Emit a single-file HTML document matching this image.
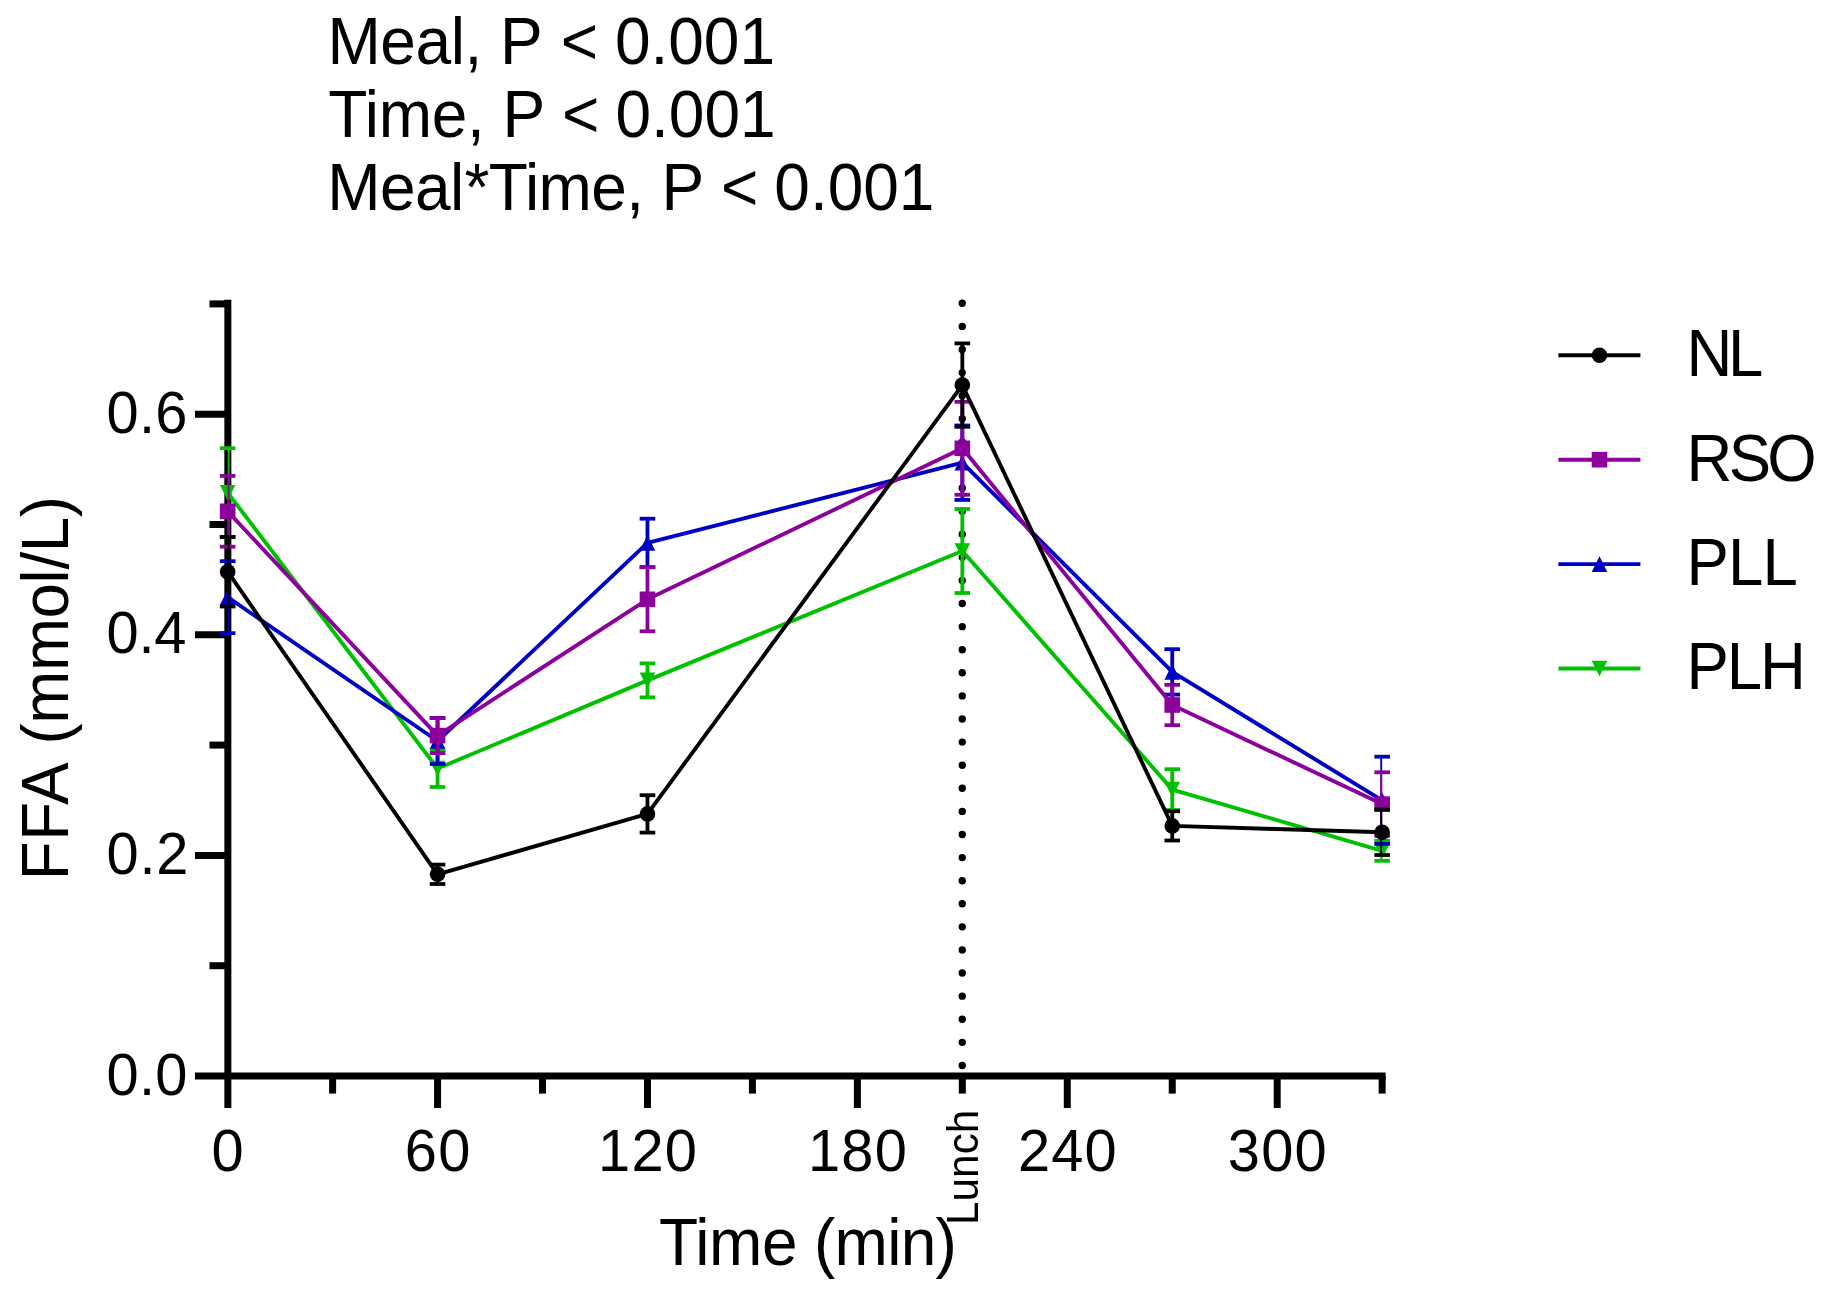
<!DOCTYPE html>
<html lang="en"><head><meta charset="utf-8"><title>FFA (mmol/L) over Time (min)</title>
<style>html,body{margin:0;padding:0;background:#fff}body{width:1824px;height:1290px;overflow:hidden}svg{display:block;filter:blur(0.4px)}text{font-family:"Liberation Sans", Arial, sans-serif;fill:#000}</style></head><body>
<svg width="1824" height="1290" viewBox="0 0 1824 1290">
<rect width="1824" height="1290" fill="#fff"/>
<defs><clipPath id="pc"><rect x="227.65" y="0" width="1154.50" height="1290"/></clipPath></defs>
<g stroke="#000" stroke-width="7" fill="none">
<line x1="227.85" y1="299.8" x2="227.85" y2="1108"/>
<line x1="195" y1="1076.0" x2="1385.65" y2="1076.0"/>
<line x1="209.5" y1="965.70" x2="227.85" y2="965.70"/>
<line x1="195" y1="855.40" x2="227.85" y2="855.40"/>
<line x1="209.5" y1="745.10" x2="227.85" y2="745.10"/>
<line x1="195" y1="634.80" x2="227.85" y2="634.80"/>
<line x1="209.5" y1="524.50" x2="227.85" y2="524.50"/>
<line x1="195" y1="414.20" x2="227.85" y2="414.20"/>
<line x1="209.5" y1="303.90" x2="227.85" y2="303.90"/>
<line x1="332.61" y1="1076.0" x2="332.61" y2="1093.6"/>
<line x1="437.56" y1="1076.0" x2="437.56" y2="1108"/>
<line x1="542.51" y1="1076.0" x2="542.51" y2="1093.6"/>
<line x1="647.47" y1="1076.0" x2="647.47" y2="1108"/>
<line x1="752.42" y1="1076.0" x2="752.42" y2="1093.6"/>
<line x1="857.38" y1="1076.0" x2="857.38" y2="1108"/>
<line x1="962.33" y1="1076.0" x2="962.33" y2="1093.6"/>
<line x1="1067.29" y1="1076.0" x2="1067.29" y2="1108"/>
<line x1="1172.25" y1="1076.0" x2="1172.25" y2="1093.6"/>
<line x1="1277.20" y1="1076.0" x2="1277.20" y2="1108"/>
<line x1="1382.15" y1="1076.0" x2="1382.15" y2="1093.6"/>
</g>
<line x1="962.25" y1="303.3" x2="962.25" y2="1066" stroke="#000" stroke-width="7.4" stroke-linecap="round" stroke-dasharray="0 23.095"/>
<g id="PLH">
<polyline points="227.65,492.70 437.56,768.50 647.47,680.40 962.33,551.00 1172.25,789.60 1382.15,850.80" fill="none" stroke="#00C000" stroke-width="3.9" stroke-linejoin="round"/>
<g stroke="#00C000" stroke-width="3.8" clip-path="url(#pc)">
<line x1="227.65" y1="448.20" x2="227.65" y2="537.20"/>
<line x1="437.56" y1="750.00" x2="437.56" y2="787.00"/>
<line x1="647.47" y1="663.40" x2="647.47" y2="697.40"/>
<line x1="962.33" y1="509.00" x2="962.33" y2="593.00"/>
<line x1="1172.25" y1="769.20" x2="1172.25" y2="810.00"/>
<line x1="1382.15" y1="840.80" x2="1382.15" y2="860.80"/>
</g>
<g stroke="#00C000" stroke-width="3.8">
<line x1="219.85" y1="448.20" x2="235.45" y2="448.20"/>
<line x1="219.85" y1="537.20" x2="235.45" y2="537.20"/>
<line x1="429.76" y1="750.00" x2="445.36" y2="750.00"/>
<line x1="429.76" y1="787.00" x2="445.36" y2="787.00"/>
<line x1="639.67" y1="663.40" x2="655.27" y2="663.40"/>
<line x1="639.67" y1="697.40" x2="655.27" y2="697.40"/>
<line x1="954.53" y1="509.00" x2="970.13" y2="509.00"/>
<line x1="954.53" y1="593.00" x2="970.13" y2="593.00"/>
<line x1="1164.45" y1="769.20" x2="1180.05" y2="769.20"/>
<line x1="1164.45" y1="810.00" x2="1180.05" y2="810.00"/>
<line x1="1374.36" y1="840.80" x2="1389.95" y2="840.80"/>
<line x1="1374.36" y1="860.80" x2="1389.95" y2="860.80"/>
</g>
<polygon points="227.65,500.50 235.45,484.90 219.85,484.90" fill="#00C000"/>
<polygon points="437.56,776.30 445.36,760.70 429.76,760.70" fill="#00C000"/>
<polygon points="647.47,688.20 655.27,672.60 639.67,672.60" fill="#00C000"/>
<polygon points="962.33,558.80 970.13,543.20 954.53,543.20" fill="#00C000"/>
<polygon points="1172.25,797.40 1180.05,781.80 1164.45,781.80" fill="#00C000"/>
<polygon points="1382.15,858.60 1389.95,843.00 1374.36,843.00" fill="#00C000"/>
</g>
<g id="PLL">
<polyline points="227.65,597.20 437.56,741.00 647.47,542.90 962.33,462.70 1172.25,671.90 1382.15,800.30" fill="none" stroke="#0000C4" stroke-width="3.9" stroke-linejoin="round"/>
<g stroke="#0000C4" stroke-width="3.8" clip-path="url(#pc)">
<line x1="227.65" y1="561.20" x2="227.65" y2="633.20"/>
<line x1="437.56" y1="718.00" x2="437.56" y2="764.00"/>
<line x1="647.47" y1="518.70" x2="647.47" y2="567.10"/>
<line x1="962.33" y1="425.50" x2="962.33" y2="499.90"/>
<line x1="1172.25" y1="649.20" x2="1172.25" y2="694.60"/>
<line x1="1382.15" y1="756.70" x2="1382.15" y2="843.90"/>
</g>
<g stroke="#0000C4" stroke-width="3.8">
<line x1="219.85" y1="561.20" x2="235.45" y2="561.20"/>
<line x1="219.85" y1="633.20" x2="235.45" y2="633.20"/>
<line x1="429.76" y1="718.00" x2="445.36" y2="718.00"/>
<line x1="429.76" y1="764.00" x2="445.36" y2="764.00"/>
<line x1="639.67" y1="518.70" x2="655.27" y2="518.70"/>
<line x1="639.67" y1="567.10" x2="655.27" y2="567.10"/>
<line x1="954.53" y1="425.50" x2="970.13" y2="425.50"/>
<line x1="954.53" y1="499.90" x2="970.13" y2="499.90"/>
<line x1="1164.45" y1="649.20" x2="1180.05" y2="649.20"/>
<line x1="1164.45" y1="694.60" x2="1180.05" y2="694.60"/>
<line x1="1374.36" y1="756.70" x2="1389.95" y2="756.70"/>
<line x1="1374.36" y1="843.90" x2="1389.95" y2="843.90"/>
</g>
<polygon points="227.65,589.40 235.45,605.00 219.85,605.00" fill="#0000C4"/>
<polygon points="437.56,733.20 445.36,748.80 429.76,748.80" fill="#0000C4"/>
<polygon points="647.47,535.10 655.27,550.70 639.67,550.70" fill="#0000C4"/>
<polygon points="962.33,454.90 970.13,470.50 954.53,470.50" fill="#0000C4"/>
<polygon points="1172.25,664.10 1180.05,679.70 1164.45,679.70" fill="#0000C4"/>
<polygon points="1382.15,792.50 1389.95,808.10 1374.36,808.10" fill="#0000C4"/>
</g>
<g id="RSO">
<polyline points="227.65,511.30 437.56,735.60 647.47,599.30 962.33,448.30 1172.25,705.00 1382.15,804.10" fill="none" stroke="#8C009C" stroke-width="3.9" stroke-linejoin="round"/>
<g stroke="#8C009C" stroke-width="3.8" clip-path="url(#pc)">
<line x1="227.65" y1="475.90" x2="227.65" y2="546.70"/>
<line x1="437.56" y1="718.10" x2="437.56" y2="753.10"/>
<line x1="647.47" y1="567.30" x2="647.47" y2="631.30"/>
<line x1="962.33" y1="401.80" x2="962.33" y2="494.80"/>
<line x1="1172.25" y1="684.80" x2="1172.25" y2="725.20"/>
<line x1="1382.15" y1="772.30" x2="1382.15" y2="835.90"/>
</g>
<g stroke="#8C009C" stroke-width="3.8">
<line x1="219.85" y1="475.90" x2="235.45" y2="475.90"/>
<line x1="219.85" y1="546.70" x2="235.45" y2="546.70"/>
<line x1="429.76" y1="718.10" x2="445.36" y2="718.10"/>
<line x1="429.76" y1="753.10" x2="445.36" y2="753.10"/>
<line x1="639.67" y1="567.30" x2="655.27" y2="567.30"/>
<line x1="639.67" y1="631.30" x2="655.27" y2="631.30"/>
<line x1="954.53" y1="401.80" x2="970.13" y2="401.80"/>
<line x1="954.53" y1="494.80" x2="970.13" y2="494.80"/>
<line x1="1164.45" y1="684.80" x2="1180.05" y2="684.80"/>
<line x1="1164.45" y1="725.20" x2="1180.05" y2="725.20"/>
<line x1="1374.36" y1="772.30" x2="1389.95" y2="772.30"/>
<line x1="1374.36" y1="835.90" x2="1389.95" y2="835.90"/>
</g>
<rect x="219.85" y="503.50" width="15.60" height="15.60" fill="#8C009C"/>
<rect x="429.76" y="727.80" width="15.60" height="15.60" fill="#8C009C"/>
<rect x="639.67" y="591.50" width="15.60" height="15.60" fill="#8C009C"/>
<rect x="954.53" y="440.50" width="15.60" height="15.60" fill="#8C009C"/>
<rect x="1164.45" y="697.20" width="15.60" height="15.60" fill="#8C009C"/>
<rect x="1374.36" y="796.30" width="15.60" height="15.60" fill="#8C009C"/>
</g>
<g id="NL">
<polyline points="227.65,571.70 437.56,874.30 647.47,813.90 962.33,385.10 1172.25,825.90 1382.15,832.30" fill="none" stroke="#000000" stroke-width="3.9" stroke-linejoin="round"/>
<g stroke="#000000" stroke-width="3.8" clip-path="url(#pc)">
<line x1="227.65" y1="536.90" x2="227.65" y2="606.50"/>
<line x1="437.56" y1="864.60" x2="437.56" y2="884.00"/>
<line x1="647.47" y1="795.20" x2="647.47" y2="832.60"/>
<line x1="962.33" y1="343.40" x2="962.33" y2="426.80"/>
<line x1="1172.25" y1="811.30" x2="1172.25" y2="840.50"/>
<line x1="1382.15" y1="809.60" x2="1382.15" y2="855.00"/>
</g>
<g stroke="#000000" stroke-width="3.8">
<line x1="219.85" y1="536.90" x2="235.45" y2="536.90"/>
<line x1="219.85" y1="606.50" x2="235.45" y2="606.50"/>
<line x1="429.76" y1="864.60" x2="445.36" y2="864.60"/>
<line x1="429.76" y1="884.00" x2="445.36" y2="884.00"/>
<line x1="639.67" y1="795.20" x2="655.27" y2="795.20"/>
<line x1="639.67" y1="832.60" x2="655.27" y2="832.60"/>
<line x1="954.53" y1="343.40" x2="970.13" y2="343.40"/>
<line x1="954.53" y1="426.80" x2="970.13" y2="426.80"/>
<line x1="1164.45" y1="811.30" x2="1180.05" y2="811.30"/>
<line x1="1164.45" y1="840.50" x2="1180.05" y2="840.50"/>
<line x1="1374.36" y1="809.60" x2="1389.95" y2="809.60"/>
<line x1="1374.36" y1="855.00" x2="1389.95" y2="855.00"/>
</g>
<circle cx="227.65" cy="571.70" r="7.80" fill="#000000"/>
<circle cx="437.56" cy="874.30" r="7.80" fill="#000000"/>
<circle cx="647.47" cy="813.90" r="7.80" fill="#000000"/>
<circle cx="962.33" cy="385.10" r="7.80" fill="#000000"/>
<circle cx="1172.25" cy="825.90" r="7.80" fill="#000000"/>
<circle cx="1382.15" cy="832.30" r="7.80" fill="#000000"/>
</g>
<line x1="1558.4" y1="355.30" x2="1640.4" y2="355.30" stroke="#000000" stroke-width="3.9"/>
<circle cx="1599.50" cy="355.30" r="7.80" fill="#000000"/>
<line x1="1558.4" y1="459.70" x2="1640.4" y2="459.70" stroke="#8C009C" stroke-width="3.9"/>
<rect x="1591.70" y="451.90" width="15.60" height="15.60" fill="#8C009C"/>
<line x1="1558.4" y1="564.10" x2="1640.4" y2="564.10" stroke="#0000C4" stroke-width="3.9"/>
<polygon points="1599.50,556.30 1607.30,571.90 1591.70,571.90" fill="#0000C4"/>
<line x1="1558.4" y1="668.50" x2="1640.4" y2="668.50" stroke="#00C000" stroke-width="3.9"/>
<polygon points="1599.50,676.30 1607.30,660.70 1591.70,660.70" fill="#00C000"/>
<text transform="translate(0,63.60) scale(1,1.04)" font-size="64" xml:space="preserve"><tspan x="327.50" letter-spacing="-0.425">Meal,</tspan><tspan letter-spacing="0"> </tspan><tspan x="499.90" letter-spacing="0.000">P</tspan><tspan letter-spacing="0"> </tspan><tspan x="560.70" letter-spacing="0.000">&lt;</tspan><tspan letter-spacing="0"> </tspan><tspan x="614.90" letter-spacing="0.000">0.001</tspan></text>
<text transform="translate(0,136.80) scale(1,1.04)" font-size="64" xml:space="preserve"><tspan x="328.20" letter-spacing="-0.250">Time,</tspan><tspan letter-spacing="0"> </tspan><tspan x="502.50" letter-spacing="0.000">P</tspan><tspan letter-spacing="0"> </tspan><tspan x="562.00" letter-spacing="0.000">&lt;</tspan><tspan letter-spacing="0"> </tspan><tspan x="615.50" letter-spacing="0.000">0.001</tspan></text>
<text transform="translate(0,210.20) scale(1,1.04)" font-size="64" xml:space="preserve"><tspan x="327.30" letter-spacing="-0.600">Meal</tspan><tspan x="464.60" letter-spacing="0.000">*</tspan><tspan x="488.80" letter-spacing="-0.600">Time,</tspan><tspan letter-spacing="0"> </tspan><tspan x="661.60" letter-spacing="0.000">P</tspan><tspan letter-spacing="0"> </tspan><tspan x="720.90" letter-spacing="0.000">&lt;</tspan><tspan letter-spacing="0"> </tspan><tspan x="774.30" letter-spacing="0.000">0.001</tspan></text>
<text transform="translate(0,1265.10) scale(1,1.04)" font-size="64" xml:space="preserve"><tspan x="659.10" letter-spacing="-0.467">Time</tspan><tspan letter-spacing="0"> </tspan><tspan x="814.00" letter-spacing="-0.725">(min)</tspan></text>
<text transform="translate(0,376.40) scale(1,1.04)" font-size="63.5" xml:space="preserve"><tspan x="1686.60" letter-spacing="-4.400">NL</tspan></text>
<text transform="translate(0,480.50) scale(1,1.04)" font-size="63.5" xml:space="preserve"><tspan x="1686.60" letter-spacing="-3.750">RSO</tspan></text>
<text transform="translate(0,584.80) scale(1,1.04)" font-size="63.5" xml:space="preserve"><tspan x="1686.60" letter-spacing="-0.900">PLL</tspan></text>
<text transform="translate(0,689.30) scale(1,1.04)" font-size="63.5" xml:space="preserve"><tspan x="1686.60" letter-spacing="-2.100">PLH</tspan></text>
<text transform="translate(67.80,0) rotate(-90) scale(1,1.04)" font-size="63.5" xml:space="preserve"><tspan x="-880.30" letter-spacing="0.800">FFA</tspan><tspan letter-spacing="0"> </tspan><tspan x="-744.50" letter-spacing="-0.286">(mmol/L)</tspan></text>
<text transform="translate(977.50,0) rotate(-90) scale(1,1.04)" font-size="42.2" xml:space="preserve"><tspan x="-1225.00" letter-spacing="0.075">Lunch</tspan></text>
<text transform="translate(106.50,432.80) scale(1,1.04)" font-size="57.8" letter-spacing="0.300">0.6</text>
<text transform="translate(106.50,653.40) scale(1,1.04)" font-size="57.8" letter-spacing="-0.200">0.4</text>
<text transform="translate(106.50,874.00) scale(1,1.04)" font-size="57.8" letter-spacing="0.800">0.2</text>
<text transform="translate(106.50,1094.60) scale(1,1.04)" font-size="57.8" letter-spacing="0.300">0.0</text>
<text transform="translate(228.25,1171.3) scale(1,1.04)" font-size="57.8" text-anchor="middle" letter-spacing="1.2">0</text>
<text transform="translate(438.16,1171.3) scale(1,1.04)" font-size="57.8" text-anchor="middle" letter-spacing="1.2">60</text>
<text transform="translate(648.07,1171.3) scale(1,1.04)" font-size="57.8" text-anchor="middle" letter-spacing="1.2">120</text>
<text transform="translate(857.98,1171.3) scale(1,1.04)" font-size="57.8" text-anchor="middle" letter-spacing="1.2">180</text>
<text transform="translate(1067.89,1171.3) scale(1,1.04)" font-size="57.8" text-anchor="middle" letter-spacing="1.2">240</text>
<text transform="translate(1277.80,1171.3) scale(1,1.04)" font-size="57.8" text-anchor="middle" letter-spacing="1.2">300</text>
</svg></body></html>
